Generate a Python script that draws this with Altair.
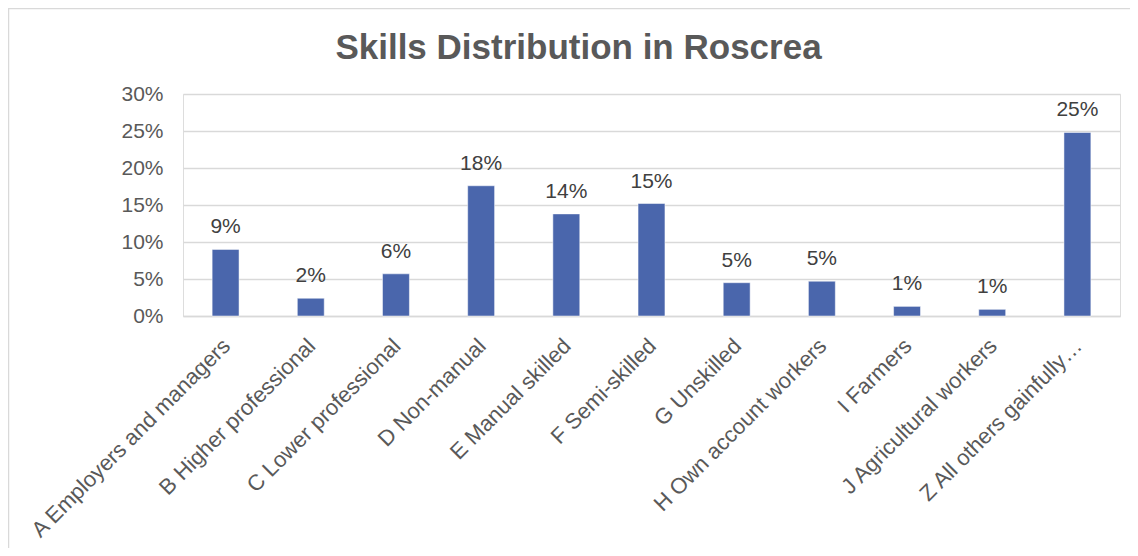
import altair as alt
import pandas as pd

categories = [
    "A Employers and managers",
    "B Higher professional",
    "C Lower professional",
    "D Non-manual",
    "E Manual skilled",
    "F Semi-skilled",
    "G Unskilled",
    "H Own account workers",
    "I Farmers",
    "J Agricultural workers",
    "Z All others gainfully occupied and unknown",
]
shares = [0.090, 0.024, 0.057, 0.176, 0.138, 0.152, 0.045, 0.047, 0.013, 0.009, 0.248]
y_ticks = [0, 0.05, 0.10, 0.15, 0.20, 0.25, 0.30]

df = pd.DataFrame({"category": categories, "share": shares})

FONT = "Liberation Sans"
W, H = 937, 222

x_enc = alt.X(
    "category:N",
    sort=categories,
    scale=alt.Scale(paddingInner=0.684, paddingOuter=0.342),
    axis=alt.Axis(
        title=None,
        labelAngle=-45,
        labelAlign="right",
        labelBaseline="middle",
        labelFont=FONT,
        labelFontSize=22,
        labelColor="#595959",
        labelPadding=26,
        labelOffset=1,
        labelLimit=300,
        labelOverlap=False,
        labelExpr="datum.label == 'Z All others gainfully occupied and unknown' ? 'Z All others gainfully…' : datum.label",
        ticks=False,
        domain=True,
        domainColor="#d9d9d9",
        domainWidth=1.3,
        grid=False,
    ),
)
y_enc = alt.Y(
    "share:Q",
    scale=alt.Scale(domain=[0, 0.30], nice=False),
    axis=alt.Axis(
        title=None,
        values=y_ticks,
        tickCount=7,
        format=".0%",
        labelFont=FONT,
        labelFontSize=21,
        labelColor="#595959",
        labelPadding=20,
        labelOverlap=False,
        tickSize=0,
        ticks=False,
        domain=False,
        grid=True,
        gridColor="#d9d9d9",
        gridWidth=1.3,
    ),
)

bars = alt.Chart(df).mark_bar(color="#4a66ac", stroke="#ffffff", strokeWidth=0.5).encode(x=x_enc, y=y_enc)
labels = alt.Chart(df).mark_text(
    font=FONT, fontSize=21, color="#404040", baseline="alphabetic", dy=-16
).encode(x=x_enc, y=y_enc, text=alt.Text("share:Q", format=".0%"))

frame = alt.Chart(pd.DataFrame({"f": [0]})).mark_rect(
    fill=None, stroke="#d9d9d9", strokeWidth=1.5, clip=False
).encode(
    x=alt.value(-174.5), x2=alt.value(W + 60),
    y=alt.value(-85.5), y2=alt.value(H + 300),
)

chart = alt.layer(frame, bars, labels).properties(
    width=W,
    height=H,
    autosize=alt.AutoSizeParams(type="none"),
    padding={"left": 175, "top": 86, "right": 10, "bottom": 232},
    title=alt.TitleParams(
        "Skills Distribution in Roscrea",
        font=FONT,
        fontSize=35,
        fontWeight="bold",
        color="#595959",
        anchor="middle",
        frame="group",
        baseline="alphabetic",
        offset=0,
        dx=-73,
        dy=86,
    ),
).configure_view(stroke=None).configure(background="white")

chart.save("out.html", embed_options={"renderer": "svg", "actions": False})
